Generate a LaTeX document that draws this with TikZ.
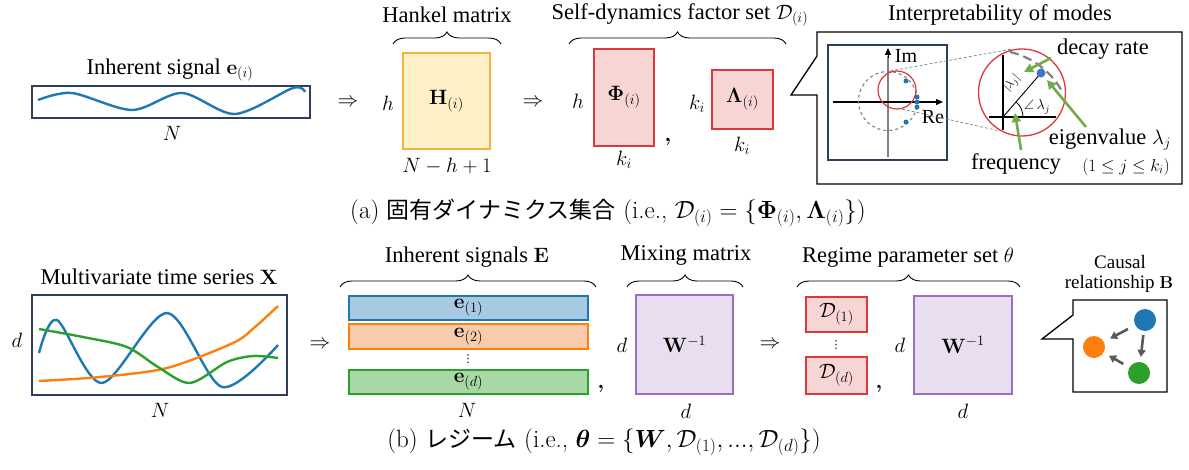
\documentclass[tikz,border=0pt]{standalone}
\usepackage{amsmath,amssymb,bm}
\usepackage[no-math]{fontspec}
\newfontfamily\tms{Liberation Serif}
\newfontfamily\jp{Noto Sans CJK JP}
\newfontfamily\djv{DejaVu Sans}
\usetikzlibrary{decorations.pathreplacing,arrows.meta,calc}
\definecolor{navy}{HTML}{2F3E5C}
\definecolor{hfill}{HTML}{FFF0C8}
\definecolor{hdraw}{HTML}{F2B53A}
\definecolor{pfill}{HTML}{F8D5D5}
\definecolor{pdraw}{HTML}{E0383A}
\definecolor{cblue}{HTML}{1F77B4}
\definecolor{corange}{HTML}{FF7F0E}
\definecolor{cgreen}{HTML}{2CA02C}
\definecolor{bfill}{HTML}{A7C9E1}
\definecolor{ofill}{HTML}{F8CBAD}
\definecolor{gfill}{HTML}{A8D8A3}
\definecolor{wfill}{HTML}{E8DEF0}
\definecolor{wdraw}{HTML}{9B6FC0}
\definecolor{agreen}{HTML}{70AD47}
\definecolor{dgray}{HTML}{595959}
\definecolor{lgray}{HTML}{808080}
\definecolor{dotblue}{HTML}{4472C4}
\begin{document}
\begin{tikzpicture}[x=1pt,y=-1pt,
  txt/.style={font=\tms\fontsize{22.5}{26}\selectfont, inner sep=0pt},
  stxt/.style={font=\tms\fontsize{19}{22}\selectfont, inner sep=0pt},
  captxt/.style={font=\fontsize{25}{29}\selectfont, inner sep=0pt},
  mat/.style={line width=1.5pt, inner sep=0pt, font=\fontsize{22}{26}\selectfont},
  brace/.style={decorate, decoration={brace, amplitude=12pt}, line width=0.9pt},
  curve/.style={line width=2.4pt, smooth},
  garrow/.style={agreen, line width=2.6pt, -{Triangle[length=9pt,width=9pt]}},
  carrow/.style={dgray, line width=2.6pt, -{Triangle[length=7pt,width=8pt]}},
  callout/.style={line width=1.3pt},
  vdot/.style={font=\djv\fontsize{11}{12}\selectfont, inner sep=0pt},
]
\useasboundingbox (0,0) rectangle (1189,470);

%% ---------------- (a) ----------------
\node[txt] (sigt) at (170,70) {Inherent signal $\mathbf{e}_{(i)}$};
\node[draw=navy, line width=1.5pt, minimum width=278pt, minimum height=32pt, inner sep=0pt] (sig) at (171,102) {};
\draw[cblue, curve] plot coordinates {(38,100) (72,93) (132,110) (182,93) (235,114) (293,88) (305,92)};
\node[txt] (sigN) at (172,133) {$N$};
\node[txt] (ar1) at (348,103) {$\Rightarrow$};

\node[txt] (hh) at (388,103) {$h$};
\node[mat, draw=hdraw, fill=hfill, minimum width=87pt, minimum height=96pt] (hank) at (446.5,101) {$\mathbf{H}_{(i)}$};
\node[txt] (hankt) at (447,15) {Hankel matrix};
\coordinate (hb1) at (393,44); \coordinate (hb2) at (501,44);
\draw[brace] (hb1) -- (hb2);
\node[txt] (hankb) at (447,166) {$N-h+1$};
\node[txt] (ar2) at (533,103) {$\Rightarrow$};

\node[txt] (sdt) at (680,15) {Self-dynamics factor set $\mathcal{D}_{(i)}$};
\coordinate (sb1) at (569,44); \coordinate (sb2) at (786,44);
\draw[brace] (sb1) -- (sb2);
\node[txt] (ph) at (578,101) {$h$};
\node[mat, draw=pdraw, fill=pfill, minimum width=60pt, minimum height=97pt] (phi) at (624,97.5) {$\mathbf{\Phi}_{(i)}$};
\node[txt] (phk) at (624,160) {$k_i$};
\node[txt] (comma1) at (668,142) {$\boldsymbol{,}$};
\node[txt] (lk) at (697,104) {$k_i$};
\node[mat, draw=pdraw, fill=pfill, minimum width=61pt, minimum height=59pt] (lam) at (742.5,99.5) {$\mathbf{\Lambda}_{(i)}$};
\node[txt] (lamk) at (742,146) {$k_i$};

% callout
\node[txt] (intt) at (1000,15) {Interpretability of modes};
\draw[callout] (817,32) -- (1182,32) -- (1182,184) -- (817,184) -- (817,95) -- (791,95) -- (817,56) -- cycle;
% small polar plot
\node[draw=navy, line width=1.3pt, minimum width=119pt, minimum height=115pt, inner sep=0pt] (pp) at (887.5,102.5) {};
\draw[lgray, line width=1.8pt] (888,157) -- (888,56);
\draw[-{Triangle[length=7pt,width=6pt]}, line width=1pt] (888,58) -- (888,48);
\draw[line width=1.2pt, -{Triangle[length=7pt,width=6pt]}] (833,102) -- (943,102);
\node[font=\tms\fontsize{20}{24}\selectfont, inner sep=0pt] (im) at (906,56) {Im};
\node[font=\tms\fontsize{20}{24}\selectfont, inner sep=0pt] (re) at (933,117) {Re};
\draw[lgray, dashed, line width=1.1pt] (888,101) circle (29.5);
\draw[pdraw, line width=1.2pt] (897,90) circle (19);
\foreach \p in {(906,81),(917,97),(917,102),(917,107),(906,122)}
  \fill[cblue] \p circle (2.5);
\draw[lgray, densely dashed, line width=0.7pt] (890,71) -- (1012,49);
\draw[lgray, densely dashed, line width=0.7pt] (897,108) -- (1000,131);
% zoomed circle
\draw[black, line width=1.8pt] (1003,55) -- (1003,130);
\draw[black, line width=1.8pt] (989,117) -- (1056,117);
\draw[black, line width=0.9pt] (1003,117) -- (1041,73);
\draw[lgray, line width=2.2pt, dash pattern=on 9pt off 5pt] (1010,52) arc[start angle=-77, end angle=-30, radius=80];
\draw[pdraw, line width=1.3pt] (1022,92.5) circle (43.5);
\fill[dotblue] (1041,73) circle (4.5);
\draw[line width=0.8pt] (1023,117) arc[start angle=0, end angle=-49, radius=20];
\node[font=\fontsize{13}{15}\selectfont, inner sep=0pt, rotate=49] (absl) at (1012,83) {$|\lambda_j|$};
\node[font=\fontsize{14}{16}\selectfont, inner sep=0pt] (angl) at (1037,107) {$\angle\,\lambda_j$};
\node[txt] (decay) at (1103,49) {decay rate};
\node[txt] (eig) at (1110,140) {eigenvalue $\lambda_j$};
\node[txt] (freq) at (1016,164) {frequency};
\node[font=\fontsize{17}{20}\selectfont, inner sep=0pt] (range) at (1126,167) {$(1\leq j\leq k_i)$};
\coordinate (dtail) at (1051,58); \coordinate (dhead) at (1024,72);
\coordinate (etail) at (1086,127); \coordinate (ehead) at (1047,80);
\coordinate (ftail) at (1021,150); \coordinate (fhead) at (1015,113);
\draw[garrow] (dtail) -- (dhead);
\draw[garrow] (etail) -- (ehead);
\draw[garrow] (ftail) -- (fhead);

\node[captxt] (capa) at (608,213) {(a) {\jp\fontsize{23}{27}\selectfont 固有ダイナミクス集合} (i.e., $\mathcal{D}_{(i)}=\{\mathbf{\Phi}_{(i)},\mathbf{\Lambda}_{(i)}\}$)};

%% ---------------- (b) ----------------
\node[txt] (mvt) at (159,277) {Multivariate time series $\mathbf{X}$};
\node[draw=navy, line width=1.5pt, minimum width=255pt, minimum height=100pt, inner sep=0pt] (xbox) at (159.5,345) {};
\draw[cblue, curve] plot coordinates {(39,353) (57,320) (102,383) (167,313) (222,387) (278,345)};
\draw[corange, curve] plot coordinates {(39,381) (100,377) (167,368) (233,343) (255,327) (278,306)};
\draw[cgreen, curve] plot coordinates {(39,329) (83,337) (127,347) (158,367) (190,383) (227,362) (253,356) (278,358)};
\node[txt] (xd) at (17,340) {$d$};
\node[txt] (xN) at (160,410) {$N$};
\node[txt] (ar3) at (320,345) {$\Rightarrow$};

\node[txt] (est) at (467,257) {Inherent signals $\mathbf{E}$};
\coordinate (eb1) at (340,287); \coordinate (eb2) at (596,287);
\draw[brace] (eb1) -- (eb2);
\node[mat, draw=cblue, fill=bfill, minimum width=239pt, minimum height=24pt, font=\fontsize{20}{24}\selectfont] (e1) at (468.5,308) {$\mathbf{e}_{(1)}$};
\node[mat, draw=corange, fill=ofill, minimum width=239pt, minimum height=25pt, font=\fontsize{20}{24}\selectfont] (e2) at (468.5,336.5) {$\mathbf{e}_{(2)}$};
\node[vdot] (edots) at (468,359.5) {⋮};
\node[mat, draw=cgreen, fill=gfill, minimum width=239pt, minimum height=24pt, font=\fontsize{20}{24}\selectfont] (ed) at (468.5,382) {$\mathbf{e}_{(d)}$};
\node[txt] (eN) at (467,410) {$N$};
\node[txt] (comma2) at (601,389) {$\boldsymbol{,}$};

\node[txt] (mixt) at (686,255) {Mixing matrix};
\coordinate (mb1) at (627,287); \coordinate (mb2) at (743,287);
\draw[brace] (mb1) -- (mb2);
\node[txt] (wd) at (622,345) {$d$};
\node[mat, draw=wdraw, fill=wfill, minimum width=97pt, minimum height=99pt] (w1) at (684.5,344.5) {$\mathbf{W}^{-1}$};
\node[txt] (wdb) at (686,411) {$d$};
\node[txt] (ar4) at (770,345) {$\Rightarrow$};

\node[txt] (regt) at (908,257) {Regime parameter set $\theta$};
\coordinate (rb1) at (797,287); \coordinate (rb2) at (1020,287);
\draw[brace] (rb1) -- (rb2);
\node[mat, draw=pdraw, fill=pfill, minimum width=61pt, minimum height=35pt, font=\fontsize{20}{24}\selectfont] (d1) at (836.5,314.5) {$\mathcal{D}_{(1)}$};
\node[vdot] (ddots) at (836,345) {⋮};
\node[mat, draw=pdraw, fill=pfill, minimum width=61pt, minimum height=37pt, font=\fontsize{20}{24}\selectfont] (dd) at (836.5,375.5) {$\mathcal{D}_{(d)}$};
\node[txt] (comma3) at (879,389) {$\boldsymbol{,}$};
\node[txt] (w2d) at (900,345) {$d$};
\node[mat, draw=wdraw, fill=wfill, minimum width=98pt, minimum height=98pt] (w2) at (963,345) {$\mathbf{W}^{-1}$};
\node[txt] (w2db) at (963,411) {$d$};

\node[stxt] (caus1) at (1120,262) {Causal};
\node[stxt] (caus2) at (1119,284) {relationship $\mathbf{B}$};
\draw[callout] (1073,300) -- (1167,300) -- (1167,392) -- (1073,392) -- (1073,339) -- (1042,339) -- (1073,315) -- cycle;
\node[circle, fill=cblue, minimum size=22pt, inner sep=0pt] (cb) at (1145,320) {};
\node[circle, fill=corange, minimum size=22pt, inner sep=0pt] (co) at (1094,347) {};
\node[circle, fill=cgreen, minimum size=22pt, inner sep=0pt] (cg) at (1139,373) {};
\draw[carrow, shorten <=8pt, shorten >=7pt] (cb) -- (co);
\draw[carrow, shorten <=4pt, shorten >=5pt] (cb) -- (cg);
\draw[carrow, shorten <=7pt, shorten >=6pt] (cg) -- (co);

\node[captxt] (capb) at (604,442) {(b) {\jp\fontsize{23}{27}\selectfont レジーム} (i.e., $\boldsymbol{\theta}=\{\boldsymbol{W},\mathcal{D}_{(1)},...,\mathcal{D}_{(d)}\}$)};
\end{tikzpicture}
\end{document}
